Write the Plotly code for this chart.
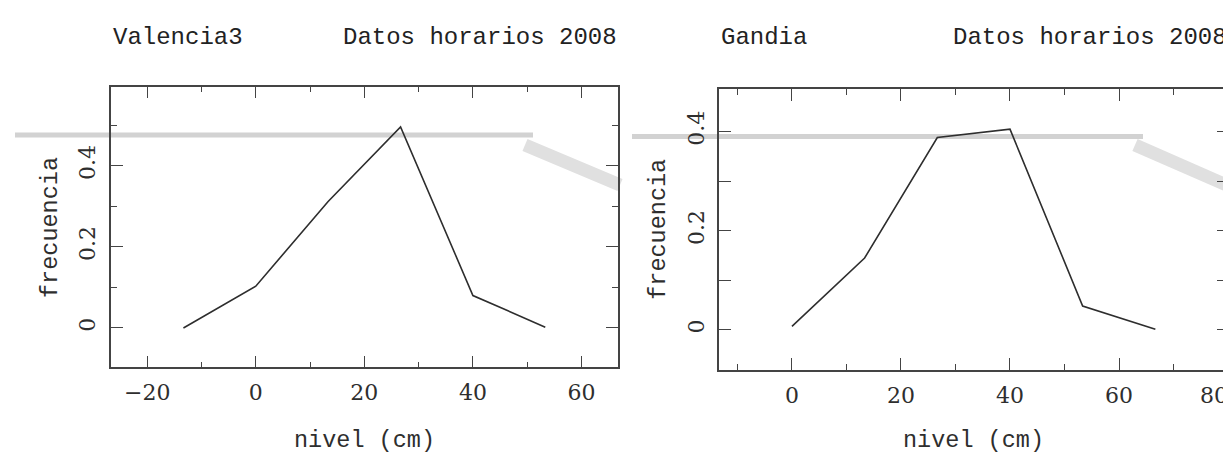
import plotly.graph_objects as go

# frequency distribution of hourly sea level, 2008
nivel_valencia = [-13.33, 0, 13.33, 26.67, 40, 53.33]
frec_valencia = [0.0, 0.103, 0.312, 0.496, 0.080, 0.002]

nivel_gandia = [0, 13.33, 26.67, 40, 53.33, 66.67]
frec_gandia = [0.007, 0.145, 0.388, 0.405, 0.048, 0.001]

estaciones = ["Valencia3", "Gandia"]
subtitulo = "Datos horarios 2008"
x_label = "nivel (cm)"
y_label = "frecuencia"

# the page body has an 8px margin, so the figure is offset by that much
OFF = 8
W, H = 1231 - OFF, 456 - OFF
INK = "#2e2e2e"
MONO = "Liberation Mono"
SERIF = "DejaVu Serif"


def px(x):
    return (x - OFF) / W


def py(y):
    return 1 - (y - OFF) / H


fig = go.Figure()

fig.add_trace(go.Scatter(x=nivel_valencia, y=frec_valencia, mode="lines",
                         line=dict(color=INK, width=1.6), xaxis="x", yaxis="y",
                         showlegend=False, hoverinfo="skip"))
fig.add_trace(go.Scatter(x=nivel_gandia, y=frec_gandia, mode="lines",
                         line=dict(color=INK, width=1.6), xaxis="x2", yaxis="y2",
                         showlegend=False, hoverinfo="skip"))
# invisible copy on the overlay axis, so that axis gets drawn
fig.add_trace(go.Scatter(x=nivel_gandia, y=frec_gandia, mode="lines", opacity=0,
                         line=dict(color=INK, width=0), xaxis="x3", yaxis="y2",
                         showlegend=False, hoverinfo="skip"))

# panel frames in pixels of the final picture: (left, right, top, bottom)
frames = [(111, 617.7, 86.7, 367.3), (719.3, 1228.3, 89, 370)]
xranges = [[-26.67, 66.67], [-13.33, 80.05]]
yranges = [[-0.097, 0.595], [-0.081, 0.486]]

tick_font = dict(family=SERIF, size=22, color=INK)
common_x = dict(showline=True, linecolor="#444444", linewidth=1.5, mirror="allticks",
                ticks="inside", ticklen=12, tickwidth=1.3, tickcolor="#444444",
                tick0=0, dtick=20, showgrid=False, zeroline=False,
                tickfont=tick_font, ticklabelstandoff=5,
                minor=dict(ticks="inside", ticklen=6, tickwidth=1.2, tickcolor="#444444",
                           dtick=10, showgrid=False))
common_y = dict(showline=True, linecolor="#444444", linewidth=1.5, mirror="allticks",
                ticks="inside", ticklen=12, tickwidth=1.3, tickcolor="#444444",
                tick0=0, dtick=0.2, showgrid=False, zeroline=False, tickangle=-90,
                tickfont=tick_font, ticklabelstandoff=5,
                minor=dict(ticks="inside", ticklen=6, tickwidth=1.2, tickcolor="#444444",
                           dtick=0.1, showgrid=False))

layout = dict(width=W, height=H, margin=dict(l=0, r=0, t=0, b=0),
              paper_bgcolor="white", plot_bgcolor="white", showlegend=False)

annotations = []
shapes = []
for i, (l, r, t, b) in enumerate(frames):
    sfx = "" if i == 0 else str(i + 1)
    layout["xaxis" + sfx] = dict(common_x, domain=[px(l), px(r)], range=xranges[i],
                                 anchor="y" + sfx)
    layout["yaxis" + sfx] = dict(common_y, domain=[py(b), py(t)], range=yranges[i],
                                 anchor="x" + sfx)
    title_font = dict(family=MONO, size=24, color="#222222")
    annotations.append(dict(text=estaciones[i], x=px(l), y=py(37), xref="paper", yref="paper",
                            xanchor="left", yanchor="middle", showarrow=False, font=title_font))
    annotations.append(dict(text=subtitulo, x=min(px(r + 1), 1.0), y=py(37), xref="paper",
                            yref="paper", xanchor="right", yanchor="middle", showarrow=False,
                            font=title_font))
    label_font = dict(family=MONO, size=23.5, color=INK)
    annotations.append(dict(text=x_label, x=px((l + r) / 2), y=py(440), xref="paper",
                            yref="paper", xanchor="center", yanchor="middle",
                            showarrow=False, font=label_font))
    annotations.append(dict(text=y_label, x=px(l - 61), y=py((t + b) / 2), xref="paper",
                            yref="paper", xanchor="center", yanchor="middle", textangle=-90,
                            showarrow=False, font=label_font))

# the last Gandia tick label sits on the right edge of the page: show it left of its tick
l, r, t, b = frames[1]
layout["xaxis3"] = dict(overlaying="x2", anchor="y2", domain=[px(l), px(r)],
                        range=xranges[1], tickvals=[80], ticks="", showline=False,
                        showgrid=False, zeroline=False, tickfont=tick_font,
                        ticklabelposition="outside left", ticklabelstandoff=10)

# faint watermark strokes crossing the panels
for x0, x1, y, dx0, dy0, dx1, dy1 in [(15, 533, 135, 525, 145, 620, 185),
                                      (632, 1143, 136.5, 1135, 145, 1231, 187)]:
    shapes.append(dict(type="line", xref="paper", yref="paper", x0=px(x0), x1=px(x1),
                       y0=py(y), y1=py(y), line=dict(color="#d2d2d2", width=5), layer="below"))
    shapes.append(dict(type="line", xref="paper", yref="paper", x0=px(dx0), x1=px(dx1),
                       y0=py(dy0), y1=py(dy1), line=dict(color="#e0e0e0", width=13),
                       layer="below"))

layout["annotations"] = annotations
layout["shapes"] = shapes
fig.update_layout(**layout)

fig.write_html("out.html")
